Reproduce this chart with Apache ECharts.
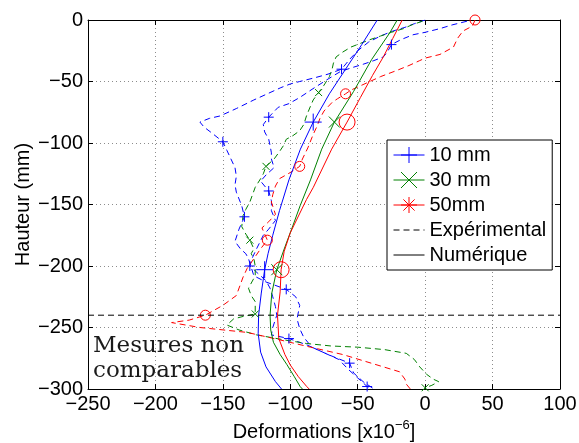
<!DOCTYPE html>
<html><head><meta charset="utf-8">
<script src="https://cdn.jsdelivr.net/npm/echarts@6/dist/echarts.min.js"></script>
<style>html,body{margin:0;padding:0;background:#fff}#c{width:579px;height:443px}</style>
</head><body><div id="c"></div><script>
// ---- axes ----
const xMin = -250, xMax = 100, xStep = 50;
const yMin = -300, yMax = 0, yStep = 50;
const cutoffY = -240;
const legendNames = ['10 mm', '30 mm', '50mm', 'Expérimental', 'Numérique'];
const annotation = 'Mesures non\ncomparables';

// ---- numerical (solid) ----
const blueNum = [[-35.5,0],[-47,-20],[-59,-40],[-71,-60],[-83,-83],[-92.5,-105],[-101,-130],[-108,-155],[-113,-175],[-116.5,-190],[-119,-203],[-121.5,-222],[-123.5,-240],[-123.8,-255],[-122,-270],[-118,-282],[-111,-294],[-106.5,-300]];
const greenNum = [[-20.7,0],[-26,-10],[-39.6,-32],[-53,-58],[-67.3,-83],[-76.7,-105],[-85,-130],[-92.7,-151],[-99,-170],[-103.8,-184],[-110,-203],[-113.7,-222],[-115,-240],[-114.5,-252],[-112.5,-262],[-107.5,-272],[-102.6,-280],[-97,-290],[-92.7,-298],[-91,-300]];
const redNum = [[-17,0],[-24,-15],[-31,-30],[-39,-45],[-48,-63],[-57.9,-83],[-69.3,-105],[-82.9,-136],[-88,-146],[-100,-173],[-104.5,-188],[-106.8,-203],[-107.5,-221],[-109.5,-240],[-108.5,-259],[-104,-272],[-100,-280.5],[-94,-290],[-87.8,-298],[-86,-300]];
const blueNumMarkers = [[-83,-83],[-119,-203]];
const greenNumMarkers = [[-67.3,-83],[-110,-203]];
const redNumMarkers = [[-57.9,-83],[-106.8,-203]];

// ---- experimental (dashed) ----
const blueExpA = [[31,-1],[20,-4],[11,-7],[0,-10],[-9,-12],[-18,-16],[-25,-20],[-28,-26],[-31,-30],[-38,-33],[-46,-36],[-55,-39],[-63,-42],[-72,-48],[-82,-55],[-93,-63],[-101,-68],[-109,-71],[-116,-79],[-120,-85],[-119,-91],[-116,-97],[-115,-102],[-114,-108],[-114,-113],[-112,-120],[-118,-126],[-122,-131],[-116,-139],[-114,-147],[-114,-155],[-111,-163],[-116,-170],[-120,-175],[-125,-186],[-128,-193],[-130,-200],[-124,-206],[-118,-212],[-115,-218],[-113,-225],[-111,-233],[-110,-240],[-113,-250],[-114,-256],[-101,-259],[-88,-264],[-76,-270],[-64,-276],[-57,-284],[-50,-291],[-43,-298],[-40,-300]];
const blueExpB = [[0,0],[-8,-3],[-15,-6],[-24,-9],[-33,-13],[-42,-18],[-50,-25],[-56,-32],[-62,-40],[-72,-44],[-82,-47],[-93,-50],[-100,-52],[-107,-55],[-117,-60],[-127,-65],[-140,-72],[-152,-78],[-160,-80],[-167,-83],[-164,-87],[-158,-92],[-150,-99],[-147,-106],[-144,-113],[-141,-120],[-140,-127],[-141,-134],[-140,-140],[-136,-151],[-134,-160],[-138,-170],[-141,-180],[-137,-186],[-133,-190],[-131,-194],[-127,-208],[-118,-213],[-103,-219],[-96,-225],[-93,-232],[-95,-243],[-93,-251],[-90,-258],[-84,-266],[-72,-272],[-56,-279],[-53,-287],[-46,-294],[-38,-300]];
const greenExp = [[-2,-1],[-10,-4],[-16,-7],[-25,-10],[-33,-13],[-41,-16],[-48,-19],[-55,-22],[-61,-26],[-66,-30],[-68,-35],[-69,-40],[-71,-46],[-75,-53],[-79,-59],[-83,-65],[-85,-70],[-88,-78],[-90,-85],[-93,-90],[-98,-94],[-103,-97],[-105,-102],[-108,-107],[-112,-113],[-118,-119],[-120,-125],[-122,-129],[-126,-136],[-128,-142],[-130,-148],[-133,-154],[-135,-159],[-136,-168],[-133,-174],[-130,-179],[-127,-186],[-129,-190],[-127,-194],[-126,-200],[-126,-208],[-131,-218],[-129,-224],[-126,-229],[-126,-239],[-135,-241],[-142,-243],[-147,-248],[-138,-252],[-125,-256],[-105,-260],[-88,-263],[-70,-265],[-50,-266],[-30,-268],[-14,-271],[-8,-276],[-4,-282],[1,-288],[6,-292],[10,-294],[5,-297],[0,-299]];
const redExp = [[37,0],[35,-5],[28,-9],[24,-15],[21,-22],[11,-28],[0,-31],[-4,-33],[-12,-37],[-21,-41],[-33,-46],[-47,-53],[-55,-57],[-59,-60],[-65,-64],[-69,-67],[-75,-74],[-78,-80],[-80,-86],[-83,-93],[-87,-104],[-91,-113],[-93,-119],[-100,-124],[-108,-129],[-111,-135],[-113,-142],[-114,-148],[-111,-158],[-116,-164],[-121,-169],[-117,-179],[-122,-186],[-127,-194],[-132,-202],[-135,-209],[-140,-224],[-150,-232],[-163,-240],[-175,-244],[-188,-246],[-167,-250],[-132,-254],[-108,-260],[-85,-266],[-61,-272],[-40,-279],[-19,-286],[-15,-292],[-14,-296],[-11,-300]];
const blueExpMarkers = [[-25,-20],[-62,-40],[-116,-79],[-150,-99],[-116,-139],[-134,-160],[-130,-200],[-103,-219],[-101,-259],[-56,-279],[-43,-298]];
const greenExpMarkers = [[-79,-59],[-118,-119],[-130,-179],[-126,-239],[0,-299]];
const redExpMarkers = [[37,0],[-59,-60],[-93,-119],[-117,-179],[-163,-240]];

// ---- styling ----
const BLUE = '#0000ff', GREEN = '#008000', RED = '#ff0000', BLACK = '#000';
const PLUS = 'path://M0,5L10,5M5,0L5,10';
const CROSS = 'path://M0,0L10,10M0,10L10,0';
const STAR = 'path://M0,5L10,5M5,0L5,10M1.5,1.5L8.5,8.5M1.5,8.5L8.5,1.5';
const FONT = '"Liberation Sans", Arial, Helvetica, sans-serif';
const DASH = [6, 4];
const minus = v => v < 0 ? '\u2212' + Math.abs(v) : String(v);

function line(data, color, dashed) {
  return { type: 'line', data, symbol: 'none', showSymbol: false, color, silent: true,
    lineStyle: { color, width: 1, type: dashed ? DASH : 'solid' }, emphasis: { disabled: true }, z: 3 };
}
function marks(data, color, symbol, size) {
  return { type: 'scatter', data, symbol, symbolSize: size, silent: true, z: 4,
    itemStyle: { color: 'transparent', borderColor: color, borderWidth: 1, opacity: 1 }, emphasis: { disabled: true } };
}
function legendItem(name, color, symbol, dashed) {
  return { type: 'line', name, data: [], symbol, color,
    lineStyle: { color, width: 1, type: dashed ? DASH : 'solid' },
    itemStyle: { color: 'transparent', borderColor: symbol === 'none' ? 'transparent' : color, borderWidth: 1 } };
}

const chart = echarts.init(document.getElementById('c'), null, { renderer: 'canvas' });
const axisLineStyle = { onZero: false, lineStyle: { color: BLACK, width: 1 } };
const axisTickStyle = { inside: true, length: 5, lineStyle: { color: BLACK } };
const gridLine = { show: true, lineStyle: { color: '#8c8c8c', type: [1, 3], width: 1 } };
chart.setOption({
  animation: false,
  backgroundColor: '#fff',
  textStyle: { fontFamily: FONT },
  grid: { left: 88, right: 19, top: 20, bottom: 54, containLabel: false, outerBoundsMode: 'none' },
  xAxis: [
    { type: 'value', min: xMin, max: xMax, interval: xStep, position: 'bottom',
      name: 'Deformations [x10{sup|\u22126}]', nameLocation: 'middle', nameGap: 30, nameMoveOverlap: false,
      nameTextStyle: { fontSize: 20, color: BLACK, fontFamily: FONT, lineHeight: 26,
        rich: { sup: { fontSize: 13, lineHeight: 13, verticalAlign: 'top', fontFamily: FONT, color: BLACK } } },
      axisLabel: { fontSize: 20, color: BLACK, margin: 5, formatter: minus, fontFamily: FONT },
      axisLine: axisLineStyle, axisTick: axisTickStyle, splitLine: gridLine },
    { type: 'value', min: xMin, max: xMax, interval: xStep, position: 'top',
      axisLabel: { show: false }, splitLine: { show: false },
      axisLine: axisLineStyle, axisTick: axisTickStyle }
  ],
  yAxis: [
    { type: 'value', min: yMin, max: yMax, interval: yStep, position: 'left',
      name: 'Hauteur (mm)', nameLocation: 'middle', nameGap: 55, nameMoveOverlap: false,
      nameTextStyle: { fontSize: 20, color: BLACK, fontFamily: FONT },
      axisLabel: { fontSize: 20, color: BLACK, margin: 5, formatter: minus, fontFamily: FONT },
      axisLine: axisLineStyle, axisTick: axisTickStyle, splitLine: gridLine },
    { type: 'value', min: yMin, max: yMax, interval: yStep, position: 'right',
      axisLabel: { show: false }, splitLine: { show: false },
      axisLine: axisLineStyle, axisTick: axisTickStyle }
  ],
  legend: {
    data: legendNames, orient: 'vertical', left: 387, top: 140,
    backgroundColor: '#fff', borderColor: BLACK, borderWidth: 1, borderRadius: 0,
    padding: [5, 6, 5, 6], itemWidth: 31, itemHeight: 20, itemGap: 5,
    selectedMode: false,
    textStyle: { fontSize: 20, color: BLACK, fontFamily: FONT, lineHeight: 20 },
    lineStyle: { width: 1 }, itemStyle: { borderWidth: 1 }
  },
  graphic: [{ type: 'text', left: 93, top: 334, silent: true,
    style: { text: annotation, font: '23px "DejaVu Serif", serif', fill: '#1a1a1a', lineHeight: 25 } }],
  series: [
    line(blueExpA, BLUE, true), line(blueExpB, BLUE, true), line(greenExp, GREEN, true), line(redExp, RED, true),
    line(blueNum, BLUE, false), line(greenNum, GREEN, false), line(redNum, RED, false),
    { type: 'line', data: [[xMin, cutoffY], [xMax, cutoffY]], symbol: 'none', silent: true, z: 5,
      lineStyle: { color: BLACK, width: 1, type: [6, 4] }, emphasis: { disabled: true } },
    marks(blueExpMarkers, BLUE, PLUS, 10), marks(greenExpMarkers, GREEN, CROSS, 7), marks(redExpMarkers, RED, 'circle', 10),
    marks(blueNumMarkers, BLUE, PLUS, 17), marks(greenNumMarkers, GREEN, CROSS, 11), marks(redNumMarkers, RED, 'circle', 16),
    legendItem('10 mm', BLUE, PLUS, false), legendItem('30 mm', GREEN, CROSS, false), legendItem('50mm', RED, STAR, false),
    legendItem('Expérimental', BLACK, 'none', true), legendItem('Numérique', BLACK, 'none', false)
  ]
});
</script></body></html>
